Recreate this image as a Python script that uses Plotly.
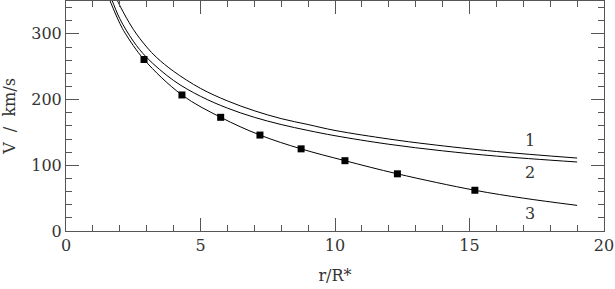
import plotly.graph_objects as go

# curve 1 (upper)
r1 = [1.85, 1.94, 2.5, 3.0, 3.37, 4.0, 5.0, 6.0, 7.0, 8.0, 9.0, 10.0, 12.0, 13.5, 16.0, 19.0]
v1 = [357, 348, 307, 280, 264, 243, 217, 198, 183, 171, 162, 153, 140, 132, 121, 111]

# curve 2 (middle)
r2 = [1.6, 1.72, 2.0, 2.5, 3.0, 4.0, 5.0, 6.0, 7.0, 8.0, 9.0, 10.0, 12.0, 14.0, 16.0, 19.0]
v2 = [361, 350, 323, 289, 264, 229, 205, 187, 173, 162, 153, 145, 132, 122, 114, 105]

# curve 3 (lower, through the measured points)
r3 = [1.55, 1.64, 2.0, 2.2, 2.9, 4.31, 5.75, 7.21, 8.74, 10.37, 12.32, 15.2, 17.0, 19.0]
v3 = [360, 350, 316, 301, 261, 207, 173, 146, 125, 107, 87, 62, 50, 39]

# measured points
r_obs = [2.9, 4.31, 5.75, 7.21, 8.74, 10.37, 12.32, 15.2]
v_obs = [261, 207, 173, 146, 125, 107, 87, 62]

curve_labels = ["1", "2", "3"]
label_r = [17.25, 17.25, 17.25]
label_v = [137, 89, 27]

FONT = "DejaVu Serif"
INK = "#333333"
FS = 16

fig = go.Figure()
for r, v in [(r1, v1), (r2, v2), (r3, v3)]:
    fig.add_trace(go.Scatter(x=r, y=v, mode="lines", line=dict(color="black", width=1, shape="spline"),
                             hoverinfo="skip"))
fig.add_trace(go.Scatter(x=r_obs, y=v_obs, mode="markers",
                         marker=dict(symbol="square", size=7, color="black")))

for t, x, y in zip(curve_labels, label_r, label_v):
    fig.add_annotation(x=x, y=y, text=t, showarrow=False, font=dict(family=FONT, size=FS, color=INK))

axis_common = dict(
    showgrid=False, zeroline=False, showline=True, linecolor="#555555", linewidth=1,
    mirror="ticks", ticks="inside", ticklen=13, tickcolor="#555555", tickwidth=1,
    tickfont=dict(family=FONT, size=FS, color=INK), automargin=False,
)

fig.update_layout(
    width=615, height=289,
    margin=dict(l=66, r=11, t=1, b=58),
    plot_bgcolor="white", paper_bgcolor="white",
    showlegend=False,
    xaxis=dict(range=[0, 20], dtick=5, tick0=0,
               minor=dict(ticks="inside", ticklen=6, dtick=1, tickcolor="#555555"),
               title=dict(text="r/R*", font=dict(family=FONT, size=FS, color=INK), standoff=15),
               **axis_common),
    yaxis=dict(range=[0, 350], dtick=100, tick0=0,
               minor=dict(ticks="inside", ticklen=6, dtick=20, tickcolor="#555555"),
               title=dict(text="V  /  km/s", font=dict(family=FONT, size=FS, color=INK), standoff=11),
               **axis_common),
)

# drop the browser's default page margin so the figure sits at the window corner
fig.write_html("out.html", config={"displayModeBar": False},
               post_script="document.body.style.margin='0';")
